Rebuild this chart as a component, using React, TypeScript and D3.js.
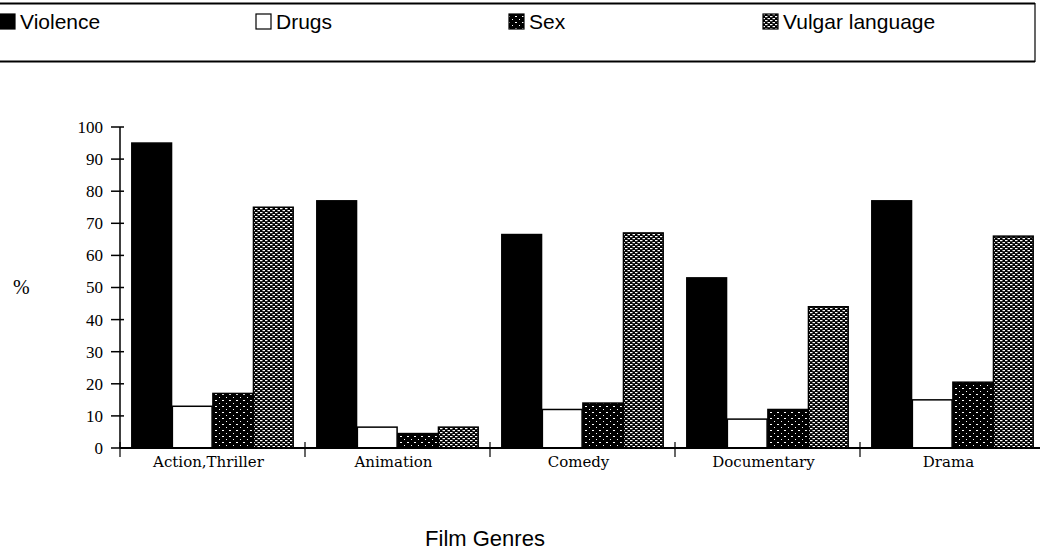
import React from "react";
import * as d3 from "d3";

const categories = ["Action,Thriller", "Animation", "Comedy", "Documentary", "Drama"];
const seriesNames = ["Violence", "Drugs", "Sex", "Vulgar language"];
const violence = [95, 77, 66.5, 53, 77];
const drugs = [13, 6.5, 12, 9, 15];
const sex = [17, 4.5, 14, 12, 20.5];
const vulgar = [75, 6.5, 67, 44, 66];
const yTicks = [0, 10, 20, 30, 40, 50, 60, 70, 80, 90, 100];

const seriesValues = [violence, drugs, sex, vulgar];
const fills = ["#000", "#fff", "url(#sexPat)", "url(#vulgarPat)"];

export default function App() {
  const W = 1040, H = 556;
  const x0 = d3.scaleBand<string>().domain(categories).range([120, 1045]).paddingInner(0).paddingOuter(0);
  const x1 = d3.scaleBand<string>().domain(seriesNames).range([11, 174]).padding(0.02);
  const y = d3.scaleLinear().domain([0, 100]).range([448, 127]);
  const serif = "'Liberation Serif', 'DejaVu Serif', serif";
  const wideSerif = "'DejaVu Serif', 'Liberation Serif', serif";
  const sans = "'Liberation Sans', Arial, sans-serif";
  const legendX = [0, 256, 509, 763];
  const boundaries = categories.map((c) => x0(c)!);

  return (
    <svg width={W} height={H} style={{ position: "absolute", left: 0, top: 0, background: "#fff" }}>
      <defs>
        <pattern id="sexPat" width="7" height="6" patternUnits="userSpaceOnUse">
          <rect width="7" height="6" fill="#000" />
          <rect x="1" y="1" width="1" height="1" fill="#fff" />
          <rect x="4" y="4" width="2" height="1" fill="#fff" />
        </pattern>
        <pattern id="vulgarPat" width="5" height="4" patternUnits="userSpaceOnUse">
          <rect width="5" height="4" fill="#000" />
          <rect x="0" y="0" width="2.5" height="1.2" fill="#fff" />
          <rect x="2.5" y="2" width="2.5" height="1.2" fill="#fff" />
        </pattern>
      </defs>

      {/* Legend */}
      <line x1={0} x2={1035} y1={3.5} y2={3.5} stroke="#000" strokeWidth={2} />
      <line x1={0} x2={1035} y1={61.5} y2={61.5} stroke="#000" strokeWidth={2} />
      <line x1={1035} x2={1035} y1={3} y2={62} stroke="#000" strokeWidth={1.2} />
      {seriesNames.map((s, i) => (
        <g key={s}>
          <rect x={legendX[i]} y={14} width={15} height={15} fill={fills[i]} stroke="#000" strokeWidth={1.2} />
          <text x={legendX[i] + 20} y={29} fontFamily={sans} fontSize={21} fill="#000">{s}</text>
        </g>
      ))}

      {/* Bars */}
      {categories.map((c, ci) => (
        <g key={c} transform={`translate(${x0(c)},0)`}>
          {seriesNames.map((s, si) => {
            const v = seriesValues[si][ci];
            return (
              <rect key={s} x={x1(s)} y={y(v)} width={x1.bandwidth()} height={y(0) - y(v)}
                fill={fills[si]} stroke="#000" strokeWidth={1.5} />
            );
          })}
        </g>
      ))}

      {/* Y axis */}
      <line x1={120} x2={120} y1={y(100)} y2={y(0)} stroke="#000" strokeWidth={1.5} />
      {yTicks.map((t) => (
        <g key={t}>
          <line x1={111} x2={124} y1={y(t)} y2={y(t)} stroke="#000" strokeWidth={1.5} />
          <text x={103} y={y(t)} dy="0.35em" textAnchor="end" fontFamily={serif} fontSize={17} fill="#000">{t}</text>
        </g>
      ))}
      <text x={13} y={287} dy="0.35em" fontFamily={serif} fontSize={20} fill="#000">%</text>

      {/* X axis */}
      <line x1={120} x2={1040} y1={y(0)} y2={y(0)} stroke="#000" strokeWidth={1.8} />
      {boundaries.map((b, i) => (
        <line key={i} x1={b} x2={b} y1={y(0) - 6} y2={y(0) + 9} stroke="#000" strokeWidth={1.2} />
      ))}
      {categories.map((c) => (
        <text key={c} x={x0(c)! + x0.bandwidth() / 2 - 4} y={467} textAnchor="middle" fontFamily={wideSerif} fontSize={15} fill="#000">{c}</text>
      ))}
      <text x={485} y={546} textAnchor="middle" fontFamily={sans} fontSize={22} fill="#000">Film Genres</text>
    </svg>
  );
}
